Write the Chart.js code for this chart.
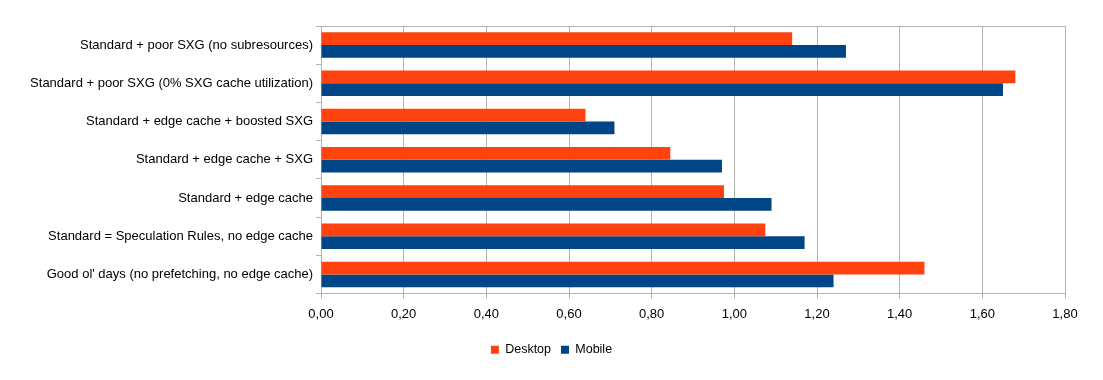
<!DOCTYPE html>
<html>
<head>
<meta charset="utf-8">
<script src="https://cdn.jsdelivr.net/npm/chart.js@4/dist/chart.umd.min.js"></script>
<style>
  html, body { margin: 0; padding: 0; background: #fff; }
  #wrap { width: 1103px; height: 380px; }
</style>
</head>
<body>
<div id="wrap"><canvas id="myChart"></canvas></div>
<script>
// categories, top to bottom
const labels = [
    'Standard + poor SXG (no subresources)',
    'Standard + poor SXG (0% SXG cache utilization)',
    'Standard + edge cache + boosted SXG',
    'Standard + edge cache + SXG',
    'Standard + edge cache',
    'Standard = Speculation Rules, no edge cache',
    "Good ol' days (no prefetching, no edge cache)"
];

// series
const desktop = [1.14, 1.68, 0.64, 0.845, 0.975, 1.075, 1.46];
const mobile = [1.27, 1.65, 0.71, 0.97, 1.09, 1.17, 1.24];

// x axis
const xMin = 0;
const xMax = 1.8;
const xStep = 0.2;

const gridColor = '#b3b3b3';
Chart.defaults.font.family = '"Liberation Sans", Arial, sans-serif';
Chart.defaults.font.size = 13;
Chart.defaults.color = '#000';

const data = {
    labels: labels,
    datasets: [
        {
            label: 'Desktop',
            data: desktop,
            backgroundColor: '#ff420e',
            borderColor: '#ff420e',
            borderWidth: 0
        },
        {
            label: 'Mobile',
            data: mobile,
            backgroundColor: '#004586',
            borderColor: '#004586',
            borderWidth: 0
        }
    ]
};

const config = {
    type: 'bar',
    data,
    options: {
        indexAxis: 'y',
        responsive: true,
        maintainAspectRatio: false,
        animation: false,
        barPercentage: 1,
        categoryPercentage: 0.667,
        layout: {
            padding: { top: 26, right: 0, left: 0, bottom: 14 }
        },
        plugins: {
            tooltip: { enabled: false },
            legend: {
                position: 'bottom',
                labels: {
                    boxWidth: 8,
                    boxHeight: 8,
                    padding: 10,
                    color: '#000',
                    font: { size: 12.5 }
                }
            }
        },
        scales: {
            x: {
                min: xMin,
                max: xMax,
                ticks: {
                    stepSize: xStep,
                    padding: 8,
                    callback: v => v.toFixed(2).replace('.', ',')
                },
                grid: {
                    color: gridColor,
                    tickColor: gridColor,
                    tickLength: 5
                },
                border: { color: gridColor },
                afterFit: s => { s.height = 40; }
            },
            y: {
                ticks: { padding: 3 },
                grid: {
                    offset: true,
                    tickLength: 5,
                    tickColor: gridColor,
                    color: ctx => (ctx.index === 0 || ctx.index === labels.length) ? gridColor : 'rgba(0,0,0,0)'
                },
                border: { color: gridColor },
                afterFit: s => { s.width = 321; }
            },
            // empty right margin so the legend stays centred on the page
            yRight: {
                type: 'category',
                position: 'right',
                ticks: { display: false },
                grid: { display: false },
                border: { display: false },
                afterFit: s => { s.width = 38; }
            }
        }
    }
};

var myChart = new Chart(
    document.getElementById('myChart'),
    config
);
</script>
</body>
</html>
